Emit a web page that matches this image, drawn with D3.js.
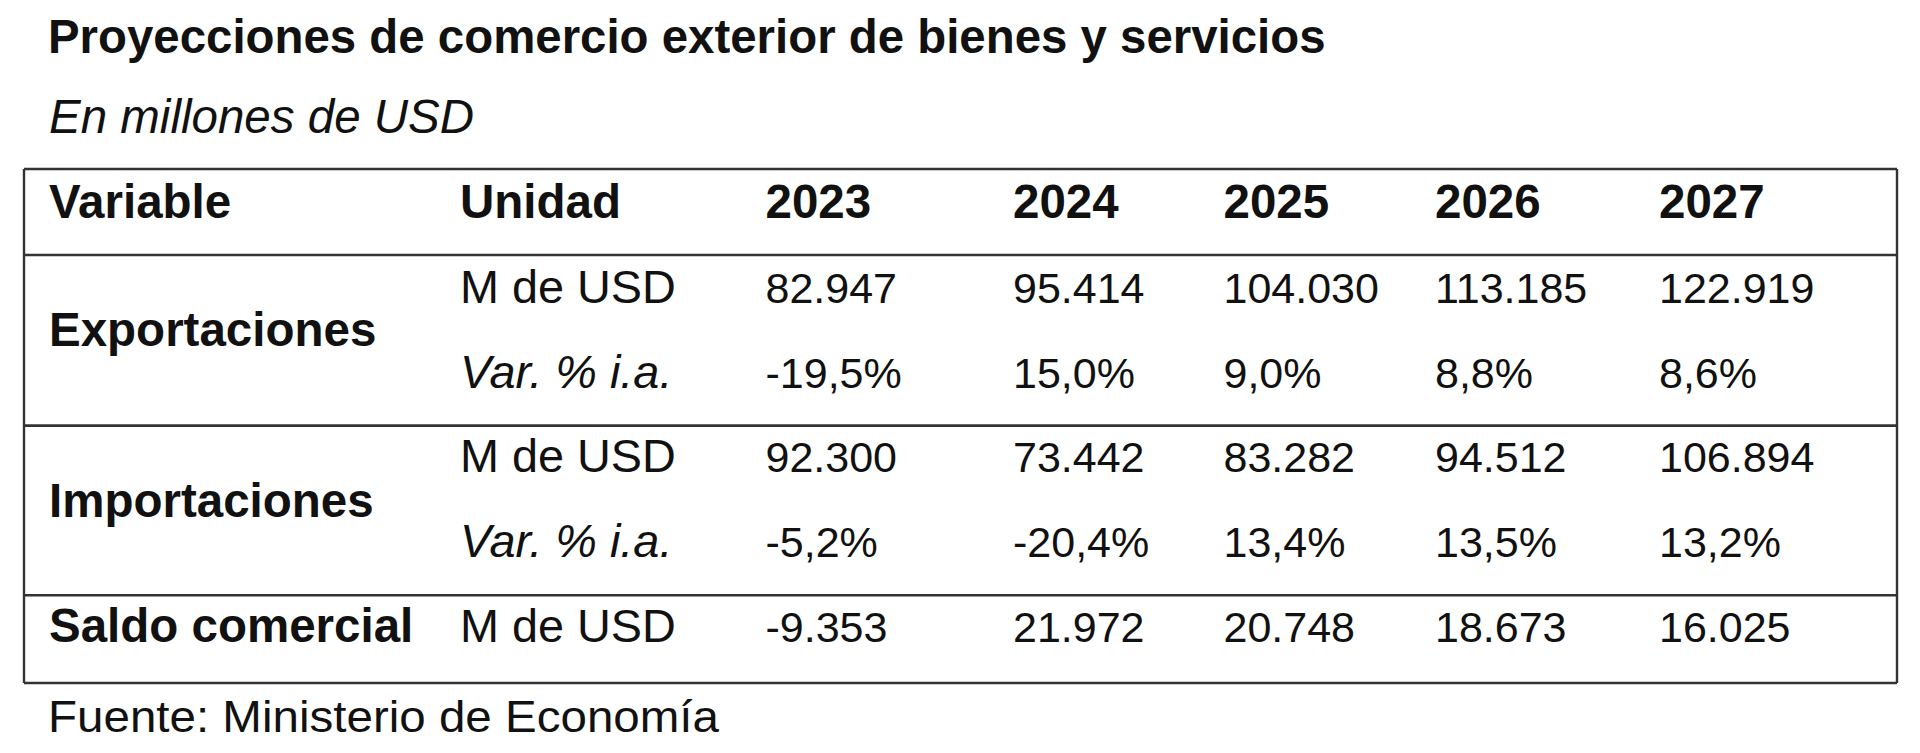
<!DOCTYPE html>
<html>
<head>
<meta charset="utf-8">
<script src="https://cdn.jsdelivr.net/npm/d3@7"></script>
<style>
  html, body { margin: 0; padding: 0; background: #ffffff; }
  svg { display: block; }
  text { font-family: "Liberation Sans", Arial, Helvetica, sans-serif; fill: #111; }
</style>
</head>
<body>
<script>
// ---- Data ----
const title = "Proyecciones de comercio exterior de bienes y servicios";
const subtitle = "En millones de USD";
const source = "Fuente: Ministerio de Economía";
const headerLabels = ["Variable", "Unidad"];
const years = ["2023", "2024", "2025", "2026", "2027"];
const variables = ["Exportaciones", "Importaciones", "Saldo comercial"];
const unitLevel = "M de USD";
const unitVar = "Var. % i.a.";
const exportValues = [82947, 95414, 104030, 113185, 122919];
const exportVar = [-19.5, 15.0, 9.0, 8.8, 8.6];
const importValues = [92300, 73442, 83282, 94512, 106894];
const importVar = [-5.2, -20.4, 13.4, 13.5, 13.2];
const balanceValues = [-9353, 21972, 20748, 18673, 16025];

// ---- Layout ----
const W = 1920, H = 753;
const svg = d3.select("body").append("svg").attr("width", W).attr("height", H);

const loc = d3.formatLocale({ decimal: ",", thousands: ".", grouping: [3], currency: ["$", ""], minus: "-" });
const fmtNum = loc.format(",.0f");
const fmtPct = v => loc.format(".1f")(v) + "%";

const colKeys = ["var", "unit"].concat(years);
const x = d3.scaleOrdinal().domain(colKeys).range([49, 460, 765.5, 1013, 1223.5, 1435, 1659]);

const rowKeys = ["header", "expM", "expV", "impM", "impV", "bal"];
const y = d3.scalePoint().domain(rowKeys).range([218, 642]);

// Title & subtitle
svg.append("text").attr("x", 48).attr("y", 53)
  .attr("font-size", 47.4).attr("font-weight", "bold").text(title);
svg.append("text").attr("x", 49).attr("y", 133)
  .attr("font-size", 47.5).attr("font-style", "italic").text(subtitle);

// Table lines
const tableLeft = 24, tableRight = 1897;
const lineYs = [y("header") - 49, y("header") + 37, y("expV") + 38, y("impV") + 38, y("bal") + 41];
const g = svg.append("g");
g.selectAll("line.h").data(lineYs).join("line")
  .attr("class", "h")
  .attr("x1", tableLeft).attr("x2", tableRight)
  .attr("y1", d => d).attr("y2", d => d)
  .attr("stroke", "#333").attr("stroke-width", 2.6);
[tableLeft, tableRight].forEach(xx => {
  g.append("line").attr("x1", xx).attr("x2", xx)
    .attr("y1", lineYs[0]).attr("y2", lineYs[lineYs.length - 1])
    .attr("stroke", "#333").attr("stroke-width", 2.4);
});

// Header
const headerCells = headerLabels.map((t, i) => ({ key: colKeys[i], t })).concat(years.map(yr => ({ key: yr, t: yr })));
svg.append("g").selectAll("text").data(headerCells).join("text")
  .attr("x", d => x(d.key)).attr("y", y("header"))
  .attr("font-size", 47.5).attr("font-weight", "bold")
  .text(d => d.t);

// Variable labels
const varRows = [
  { t: variables[0], y: (y("expM") + y("expV")) / 2 + 1 },
  { t: variables[1], y: (y("impM") + y("impV")) / 2 + 2 },
  { t: variables[2], y: y("bal") }
];
svg.append("g").selectAll("text").data(varRows).join("text")
  .attr("x", x("var")).attr("y", d => d.y)
  .attr("font-size", 47.5).attr("font-weight", "bold")
  .text(d => d.t);

// Unit labels
const unitRows = [
  { r: "expM", t: unitLevel, it: false },
  { r: "expV", t: unitVar, it: true },
  { r: "impM", t: unitLevel, it: false },
  { r: "impV", t: unitVar, it: true },
  { r: "bal", t: unitLevel, it: false }
];
svg.append("g").selectAll("text").data(unitRows).join("text")
  .attr("x", x("unit")).attr("y", d => y(d.r))
  .attr("font-size", 46.8).attr("font-style", d => d.it ? "italic" : "normal")
  .text(d => d.t);

// Values
const series = [
  { r: "expM", vals: exportValues, f: fmtNum },
  { r: "expV", vals: exportVar, f: fmtPct },
  { r: "impM", vals: importValues, f: fmtNum },
  { r: "impV", vals: importVar, f: fmtPct },
  { r: "bal", vals: balanceValues, f: fmtNum }
];
const cells = [];
series.forEach(s => s.vals.forEach((v, i) => cells.push({ r: s.r, yr: years[i], txt: s.f(v) })));
svg.append("g").selectAll("text").data(cells).join("text")
  .attr("x", d => x(d.yr)).attr("y", d => y(d.r))
  .attr("font-size", 43)
  .text(d => d.txt);

// Source
svg.append("text").attr("x", 48).attr("y", 732)
  .attr("font-size", 45).attr("textLength", 671).attr("lengthAdjust", "spacingAndGlyphs")
  .text(source);
</script>
</body>
</html>
